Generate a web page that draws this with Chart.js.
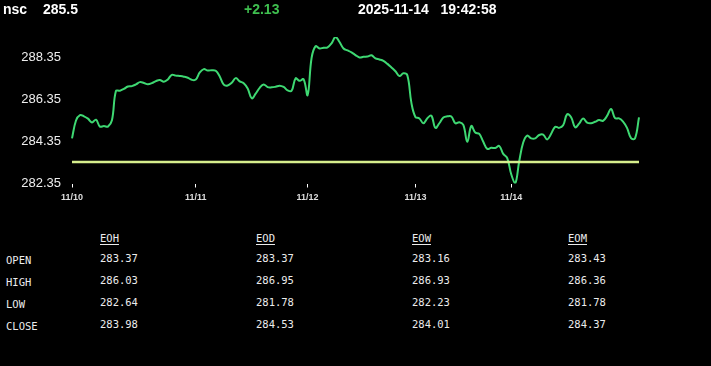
<!DOCTYPE html>
<html>
<head>
<meta charset="utf-8">
<script src="https://cdn.jsdelivr.net/npm/chart.js@4/dist/chart.umd.min.js"></script>
<style>
  html, body { margin:0; padding:0; background:#000; width:711px; height:366px; overflow:hidden; }
  #wrap { position:relative; width:711px; height:366px; }
  #chart { position:absolute; left:0; top:0; }
  .hdr { position:absolute; top:1px; font:bold 14px "Liberation Sans", Arial, sans-serif; line-height:16px; color:#fff; white-space:pre; }
  .cell { position:absolute; font:10.5px "DejaVu Sans Mono", monospace; line-height:12px; color:#ececec; white-space:pre; }
  .colh { text-decoration:underline; text-underline-offset:2px; }
</style>
</head>
<body>
<div id="wrap">
  <canvas id="chart" width="711" height="215"></canvas>
</div>
<script>
// ---- data ----
const symbol = 'nsc';
const lastPrice = 285.5;
const change = '+2.13';
const stamp = '2025-11-14   19:42:58';
const prevClose = 283.37;

const dayLabels = ['11/10', '11/11', '11/12', '11/13', '11/14'];
const dayStartIndex = [0, 31, 59, 86, 110];

const price = [
  284.50, 285.35, 285.61, 285.55, 285.44, 285.26, 285.39, 285.06, 285.09, 285.06,
  285.36, 286.76, 286.77, 286.86, 286.97, 286.99, 287.07, 287.18, 287.14, 287.08,
  287.13, 287.23, 287.28, 287.20, 287.31, 287.53, 287.49, 287.47, 287.44, 287.39,
  287.29, 287.30, 287.64, 287.80, 287.73, 287.75, 287.72, 287.45, 287.06, 287.02,
  287.15, 287.37, 287.22, 287.13, 286.88, 286.41, 286.63, 286.91, 287.07, 286.94,
  286.93, 286.96, 287.01, 286.95, 286.79, 286.77, 287.36, 287.24, 287.32, 286.56,
  288.33, 288.89, 288.78, 288.82, 288.84, 289.03, 289.33, 289.09, 288.78, 288.69,
  288.60, 288.47, 288.35, 288.39, 288.40, 288.46, 288.31, 288.26, 288.19, 288.05,
  287.88, 287.70, 287.47, 287.60, 287.50, 286.19, 285.52, 285.45, 285.22, 285.46,
  285.58, 285.00, 285.22, 285.50, 285.55, 285.54, 285.22, 285.27, 285.14, 284.34,
  285.09, 284.78, 284.71, 284.34, 284.00, 284.05, 284.04, 284.14, 283.76, 283.56,
  282.79, 282.35, 283.41, 284.30, 284.63, 284.50, 284.50, 284.66, 284.68, 284.45,
  284.72, 285.05, 285.00, 285.12, 285.65, 285.51, 285.03, 285.20, 285.45, 285.25,
  285.22, 285.29, 285.37, 285.34, 285.57, 285.90, 285.46, 285.45, 285.30, 285.00,
  284.51, 284.50, 285.50
];

const yTickValues = [282.35, 284.35, 286.35, 288.35];

const tableColumns = ['EOH', 'EOD', 'EOW', 'EOM'];
const tableRows = ['OPEN', 'HIGH', 'LOW', 'CLOSE'];
const eohValues = ['283.37', '286.03', '282.64', '283.98'];
const eodValues = ['283.37', '286.95', '281.78', '284.53'];
const eowValues = ['283.16', '286.93', '282.23', '284.01'];
const eomValues = ['283.43', '286.36', '281.78', '284.37'];

// ---- header & table (text) ----
const wrap = document.getElementById('wrap');
function addText(cls, text, left, top, color) {
  const d = document.createElement('div');
  d.className = cls;
  d.textContent = text;
  d.style.left = left + 'px';
  d.style.top = top + 'px';
  if (color) d.style.color = color;
  wrap.appendChild(d);
  return d;
}
addText('hdr', symbol, 3, 1);
addText('hdr', String(lastPrice), 43, 1);
addText('hdr', change, 244, 1, '#3fbf4f');
addText('hdr', stamp, 358, 1);

const colX = [100, 256, 412, 568];
const rowY = [252, 274, 296, 318];
const colValues = [eohValues, eodValues, eowValues, eomValues];
tableColumns.forEach((c, i) => addText('cell colh', c, colX[i], 232));
tableRows.forEach((r, j) => addText('cell', r, 6, rowY[j] + 1.5));
colValues.forEach((vals, i) => vals.forEach((v, j) => addText('cell', v, colX[i], rowY[j])));

// ---- chart ----
const labels = price.map((_, i) => {
  const k = dayStartIndex.indexOf(i);
  return k >= 0 ? dayLabels[k] : '';
});

new Chart(document.getElementById('chart'), {
  type: 'line',
  data: {
    labels: labels,
    datasets: [
      {
        data: labels.map(() => prevClose),
        borderColor: '#d6ee8c',
        borderWidth: 2.5,
        pointRadius: 0,
        tension: 0
      },
      {
        data: price,
        borderColor: '#3ed872',
        borderWidth: 2,
        pointRadius: 0,
        tension: 0.4
      }
    ]
  },
  options: {
    responsive: false,
    animation: false,
    devicePixelRatio: 1,
    layout: { padding: { top: 37, right: 72, left: 0, bottom: 0 } },
    plugins: { legend: { display: false }, tooltip: { enabled: false } },
    scales: {
      x: {
        type: 'category',
        afterBuildTicks: s => { s.ticks = s.ticks.filter(t => labels[t.value]); },
        afterFit: s => { s.height = 31.5; },
        border: { display: false },
        grid: { drawOnChartArea: false, drawTicks: true, tickLength: 4, color: '#ffffff', tickWidth: 1 },
        ticks: {
          autoSkip: false, maxRotation: 0, minRotation: 0, padding: 5,
          color: '#dddddd',
          font: { family: '"Liberation Sans", Arial, sans-serif', size: 9, weight: 'bold' },
          callback: function(v) { return labels[v]; }
        }
      },
      y: {
        min: Math.min(...price),
        max: Math.max(...price),
        afterBuildTicks: s => { s.ticks = yTickValues.map(v => ({ value: v })); },
        afterFit: s => { s.width = 72; },
        border: { display: false },
        grid: { display: false, drawTicks: false },
        ticks: {
          padding: 11,
          color: '#eeeeee',
          font: { family: '"Liberation Sans", Arial, sans-serif', size: 13 },
          callback: v => Number(v).toFixed(2)
        }
      }
    }
  }
});
</script>
</body>
</html>
